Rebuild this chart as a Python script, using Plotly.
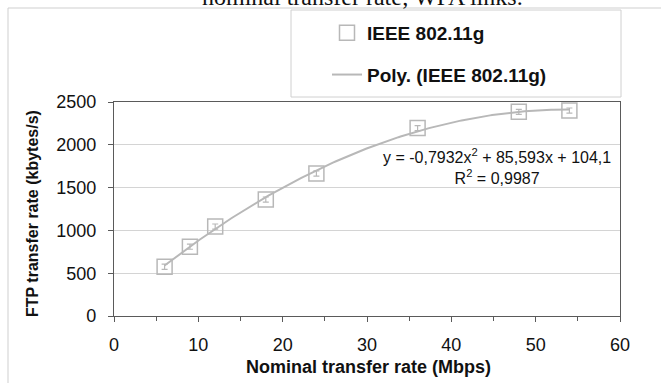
import numpy as np
import plotly.graph_objects as go

# ---- data ----
nominal_rate = [6, 9, 12, 18, 24, 36, 48, 54]            # Mbps
ftp_rate = [575, 810, 1045, 1360, 1665, 2195, 2385, 2400]  # kbytes/s
ftp_err = [30, 30, 30, 30, 30, 30, 30, 30]
poly_coef = [-0.7932, 85.593, 104.1]                      # y = a x^2 + b x + c
r_squared = "0,9987"
x_ticks = [0, 10, 20, 30, 40, 50, 60]
y_ticks = [0, 500, 1000, 1500, 2000, 2500]

# layout geometry (pixels)
W, H = 661, 383
L, R, T, B = 114, 41, 102, 67
pw, ph = W - L - R, H - T - B

def px_x(p):
    return (p - L) / pw

def px_y(p):
    return (H - B - p) / ph

x_fit = np.linspace(min(nominal_rate), max(nominal_rate), 200)
y_fit = np.polyval(poly_coef, x_fit)

fig = go.Figure()
fig.add_trace(go.Scatter(
    x=nominal_rate, y=ftp_rate, mode="markers", name="IEEE 802.11g",
    legendgroup="a",
    marker=dict(symbol="square-open", size=15, color="#b8b8b8",
                line=dict(width=1.5, color="#b8b8b8")),
    error_y=dict(type="data", array=ftp_err, color="#b8b8b8",
                 thickness=1.2, width=3),
))
fig.add_trace(go.Scatter(
    x=x_fit, y=y_fit, mode="lines", name="Poly. (IEEE 802.11g)",
    legendgroup="b",
    line=dict(color="#b8b8b8", width=2),
))

axis_font = dict(family="Liberation Sans, Arial", size=18, color="#111")

fig.update_layout(
    width=W, height=H,
    margin=dict(l=L, r=R, t=T, b=B, pad=0),
    paper_bgcolor="white", plot_bgcolor="white",
    showlegend=True,
    legend=dict(
        x=px_x(327), y=px_y(14), xanchor="left", yanchor="top",
        bgcolor="rgba(0,0,0,0)", borderwidth=0,
        font=dict(family="Liberation Sans, Arial", size=19, color="#111",
                  weight="bold"),
        tracegroupgap=14, traceorder="grouped",
    ),
    xaxis=dict(
        range=[0, 60], tickvals=x_ticks, ticktext=[str(v) for v in x_ticks],
        showgrid=False, zeroline=False,
        showline=True, linecolor="#5a5a5a", linewidth=1.3, mirror=True,
        ticks="outside", ticklen=5, tickcolor="#5a5a5a",
        minor=dict(dtick=5, ticks="outside", ticklen=4, tickcolor="#5a5a5a",
                   showgrid=False),
        tickfont=axis_font, ticklabelstandoff=7,
    ),
    yaxis=dict(
        range=[0, 2500], tickvals=y_ticks, ticktext=[str(v) for v in y_ticks],
        showgrid=True, gridcolor="#d4d4d4", gridwidth=1, zeroline=False,
        showline=True, linecolor="#5a5a5a", linewidth=1.3, mirror=True,
        ticks="outside", ticklen=5, tickcolor="#5a5a5a",
        tickfont=axis_font, ticklabelstandoff=8,
    ),
    shapes=[
        # outer chart frame
        dict(type="rect", xref="paper", yref="paper",
             x0=px_x(8), x1=px_x(700), y0=px_y(420), y1=px_y(8),
             line=dict(color="#cfcfcf", width=1), fillcolor="rgba(0,0,0,0)",
             layer="below"),
        # legend box
        dict(type="rect", xref="paper", yref="paper",
             x0=px_x(291), x1=px_x(621), y0=px_y(97), y1=px_y(10),
             line=dict(color="#d0d0d0", width=1), fillcolor="white",
             layer="below"),
    ],
    annotations=[
        dict(text="nominal transfer rate; WPA links.", xref="paper", yref="paper",
             x=px_x(362), y=px_y(12), xanchor="center", yanchor="bottom",
             showarrow=False,
             font=dict(family="Liberation Serif, Times New Roman", size=24,
                       color="#111")),
        dict(text="Nominal transfer rate (Mbps)", xref="paper", yref="paper",
             x=px_x(368), y=px_y(367), xanchor="center", yanchor="middle",
             showarrow=False,
             font=dict(family="Liberation Sans, Arial", size=18, color="#111",
                       weight="bold")),
        dict(text="FTP transfer rate (kbytes/s)", xref="paper", yref="paper",
             x=px_x(32), y=px_y(214), xanchor="center", yanchor="middle",
             textangle=-90, showarrow=False,
             font=dict(family="Liberation Sans, Arial", size=16, color="#111",
                       weight="bold")),
        dict(text=("y = %s<sup>2</sup> + %sx + %s" % (
                    str(poly_coef[0]).replace(".", ",") + "x",
                    str(poly_coef[1]).replace(".", ","),
                    str(poly_coef[2]).replace(".", ","))
                   + "<br>R<sup>2</sup> = " + r_squared),
             xref="paper", yref="paper",
             x=px_x(497), y=px_y(166), xanchor="center", yanchor="middle",
             align="center", showarrow=False,
             font=dict(family="Liberation Sans, Arial", size=16, color="#111")),
    ],
)

fig.write_html("out.html")
